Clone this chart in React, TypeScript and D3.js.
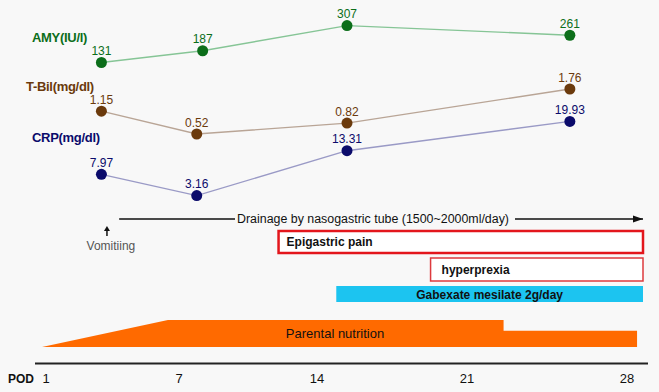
import React from "react";
import * as d3 from "d3";

// ---- data ----
const podTicks = [1, 7, 14, 21, 28];
const amyDays = [3.5, 8.2, 15.4, 25.5];
const amyValues = [131, 187, 307, 261];
const labDays = [3.5, 7.9, 15.4, 25.5];
const bilValues = [1.15, 0.52, 0.82, 1.76];
const crpValues = [7.97, 3.16, 13.31, 19.93];

const drainage = { label: "Drainage by nasogastric tube (1500~2000ml/day)", start: 4.3, end: 28.7 };
const vomiting = { label: "Vomitiing", day: 3.75 };
const epigastric = { label: "Epigastric pain", start: 12.05, end: 28.7 };
const hyperprexia = { label: "hyperprexia", start: 19.3, end: 28.7 };
const gabexate = { label: "Gabexate mesilate 2g/day", start: 14.9, end: 28.7 };
// parental nutrition profile: [day, level]
const parentalDays = [0.82, 6.5, 22.6, 22.6, 28.44];
const parentalLevels = [0, 1, 1, 0.6, 0.6];

const W = 659;
const H = 392;
const font = "'Liberation Sans', Arial, sans-serif";

export default function App() {
  const x = d3.scaleLinear().domain(podTicks).range([46, 179, 317, 467, 627]);

  const yAmy = d3.scaleLinear().domain([131, 307]).range([62.5, 25.6]);
  const yBil = d3.scaleLinear().domain([0.52, 1.76]).range([134, 89]);
  const yCrp = d3.scaleLinear().domain([3.16, 19.93]).range([195.6, 121.4]);
  const yPN = d3.scaleLinear().domain([0, 1]).range([347, 320]);
  const pnBase = 347;

  const series = [
    { name: "AMY(IU/l)", days: amyDays, values: amyValues, y: yAmy, dot: "#0c6e1a", line: "#86c596", text: "#0c6e1a", fmt: (v: number) => String(v), nameX: 32, nameY: 42 },
    { name: "T-Bil(mg/dl)", days: labDays, values: bilValues, y: yBil, dot: "#6b3a0c", line: "#b9a596", text: "#6b3a0c", fmt: (v: number) => v.toFixed(2), nameX: 26, nameY: 91 },
    { name: "CRP(mg/dl)", days: labDays, values: crpValues, y: yCrp, dot: "#0b0b6b", line: "#9a9ac6", text: "#0b0b6b", fmt: (v: number) => v.toFixed(2), nameX: 32, nameY: 142 },
  ];
  const labelDy = -7.5;

  const line = d3.line<[number, number]>().x((d) => d[0]).y((d) => d[1]);

  const pnTop = parentalDays.map((d, i) => [x(d), yPN(parentalLevels[i])] as [number, number]);
  const pnPath =
    `M${x(parentalDays[0])},${pnBase}` +
    pnTop.map((p) => `L${p[0]},${p[1]}`).join("") +
    `L${x(parentalDays[parentalDays.length - 1])},${pnBase}Z`;

  const drainY = 219;
  const textStartX = 237;
  const textEndX = 509;

  return (
    <svg width={W} height={H} style={{ position: "absolute", left: 0, top: 0, background: "#f8f8f8" }} fontFamily={font}>
      <rect x={0} y={0} width={W} height={H} fill="#f8f8f8" />
      <defs>
        <marker id="arr" viewBox="0 0 10 10" refX="10" refY="5" markerWidth="7" markerHeight="7" orient="auto">
          <path d="M0,1.5 L10,5 L0,8.5 Z" fill="#111" />
        </marker>
      </defs>

      {series.map((s) => {
        const pts = s.days.map((d, i) => [x(d), s.y(s.values[i])] as [number, number]);
        return (
          <g key={s.name}>
            <text x={s.nameX} y={s.nameY} fill={s.text} fontSize={13} fontWeight="bold" style={{ letterSpacing: "-0.3px" }}>
              {s.name}
            </text>
            <path d={line(pts) || ""} fill="none" stroke={s.line} strokeWidth={1.4} />
            {pts.map((p, i) => (
              <g key={i}>
                <circle cx={p[0]} cy={p[1]} r={5.5} fill={s.dot} />
                <text x={p[0]} y={p[1] + labelDy} textAnchor="middle" fill={s.text} fontSize={12}>
                  {s.fmt(s.values[i])}
                </text>
              </g>
            ))}
          </g>
        );
      })}

      {/* drainage */}
      <line x1={x(drainage.start)} x2={textStartX - 2} y1={drainY} y2={drainY} stroke="#111" strokeWidth={1.5} />
      <text x={(textStartX + textEndX) / 2} y={drainY + 4} textAnchor="middle" fontSize={12} fill="#111" textLength={textEndX - textStartX} lengthAdjust="spacingAndGlyphs">
        {drainage.label}
      </text>
      <line x1={textEndX + 6} x2={x(drainage.end)} y1={drainY} y2={drainY} stroke="#111" strokeWidth={1.5} markerEnd="url(#arr)" />

      {/* vomiting */}
      <line x1={x(vomiting.day)} x2={x(vomiting.day)} y1={236} y2={229} stroke="#111" strokeWidth={1.5} />
      <path d={`M${x(vomiting.day) - 3},${231} L${x(vomiting.day)},${226} L${x(vomiting.day) + 3},${231} Z`} fill="#111" />
      <text x={x(vomiting.day) + 4} y={250} textAnchor="middle" fontSize={12} fill="#555">
        {vomiting.label}
      </text>

      {/* epigastric pain */}
      <rect x={x(epigastric.start)} y={231} width={x(epigastric.end) - x(epigastric.start)} height={22} fill="#fff" stroke="#e3161c" strokeWidth={2.5} />
      <text x={x(epigastric.start) + 8} y={246} fontSize={12} fontWeight="bold" fill="#111">
        {epigastric.label}
      </text>

      {/* hyperprexia */}
      <rect x={x(hyperprexia.start)} y={258} width={x(hyperprexia.end) - x(hyperprexia.start)} height={23} fill="#fff" stroke="#dd3a3e" strokeWidth={1.5} />
      <text x={x(hyperprexia.start) + 11} y={274} fontSize={12} fontWeight="bold" fill="#111">
        {hyperprexia.label}
      </text>

      {/* gabexate */}
      <rect x={x(gabexate.start)} y={286} width={x(gabexate.end) - x(gabexate.start)} height={16} fill="#1cc4f0" />
      <text x={(x(gabexate.start) + x(gabexate.end)) / 2} y={298.5} textAnchor="middle" fontSize={12} fontWeight="bold" fill="#111">
        {gabexate.label}
      </text>

      {/* parental nutrition */}
      <path d={pnPath} fill="#ff6a00" />
      <text x={335} y={338} textAnchor="middle" fontSize={13} fill="#111">
        Parental nutrition
      </text>

      {/* axis */}
      <line x1={35} x2={648} y1={363.5} y2={363.5} stroke="#222" strokeWidth={2} />
      <text x={8} y={383} fontSize={13} fontWeight="bold" fill="#111" textLength={26} lengthAdjust="spacingAndGlyphs">
        POD
      </text>
      {podTicks.map((t) => (
        <text key={t} x={x(t)} y={383} textAnchor="middle" fontSize={13} fill="#111">
          {t}
        </text>
      ))}
    </svg>
  );
}
